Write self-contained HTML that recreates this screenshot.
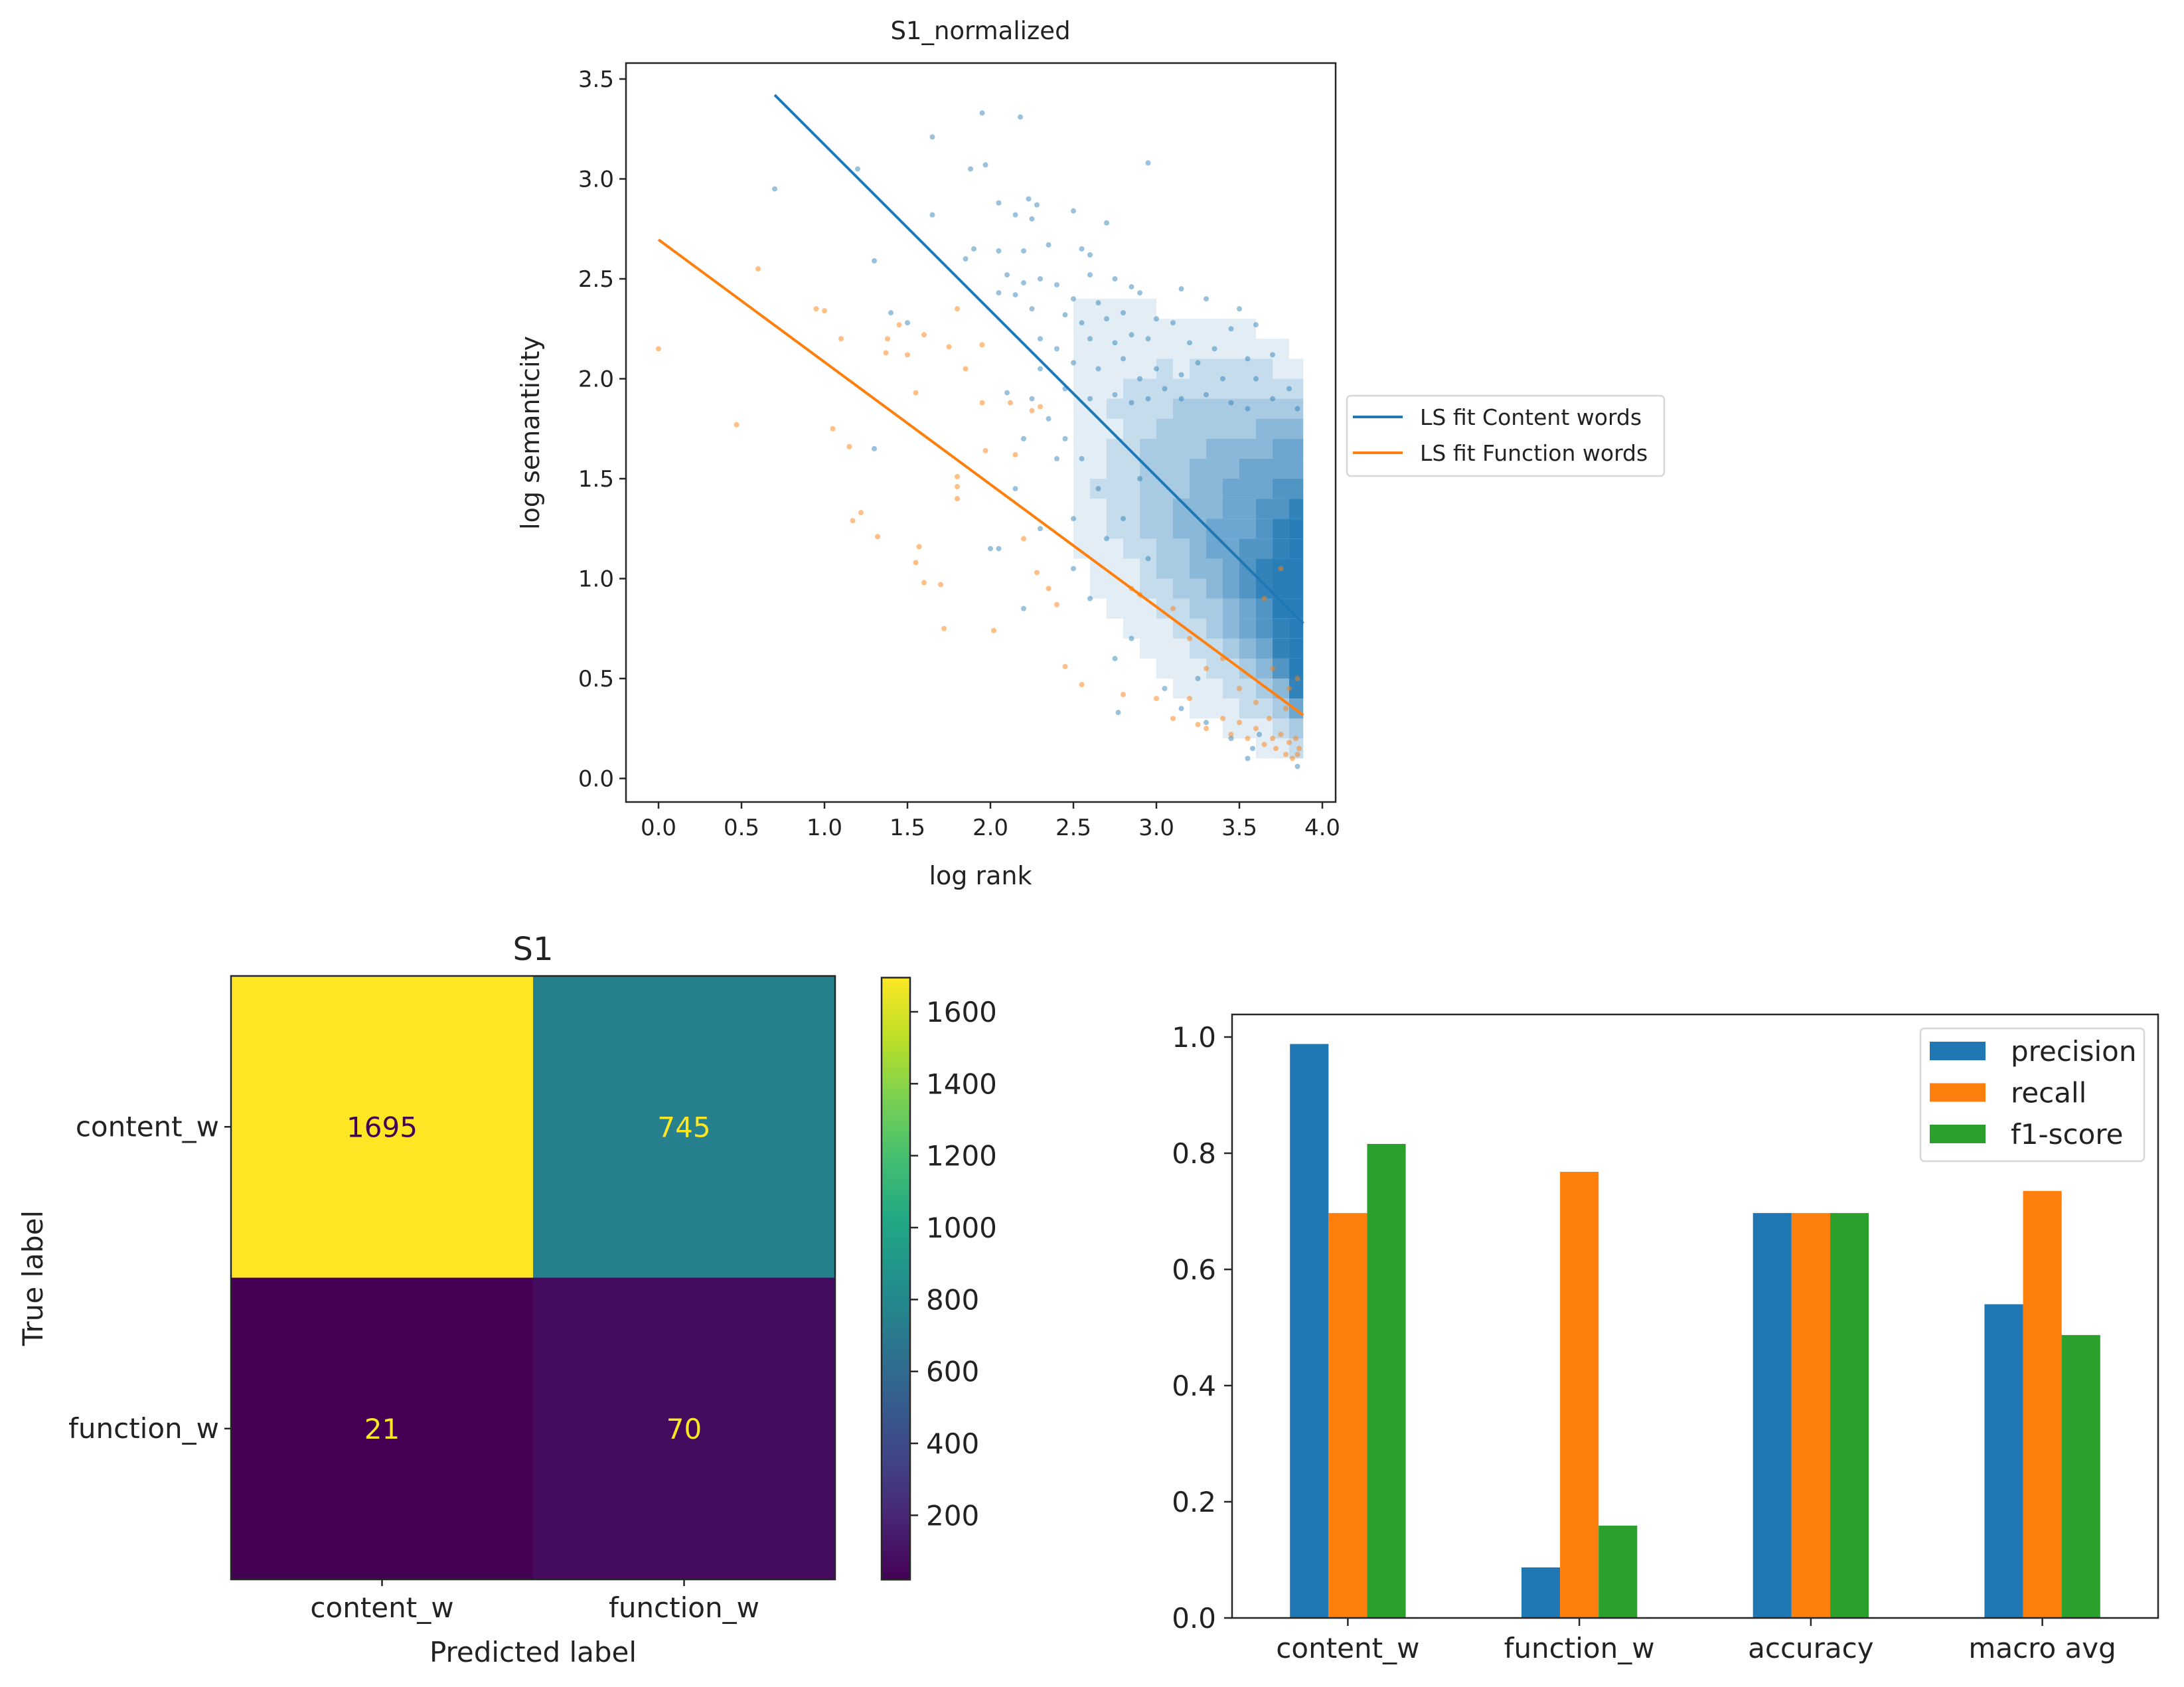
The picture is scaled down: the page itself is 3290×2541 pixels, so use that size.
<!DOCTYPE html>
<html><head><meta charset="utf-8"><style>
html,body{margin:0;padding:0;background:#fff;}
svg{display:block;font-family:"DejaVu Sans","Liberation Sans",sans-serif;}
</style></head><body>
<svg id="root" width="3290" height="2541" viewBox="0 0 3290 2541" xmlns="http://www.w3.org/2000/svg">
<defs>
<linearGradient id="viridis" x1="0" y1="1" x2="0" y2="0">
<stop offset="0" stop-color="#440154"/><stop offset="0.1" stop-color="#482475"/><stop offset="0.2" stop-color="#414487"/><stop offset="0.3" stop-color="#355f8d"/><stop offset="0.4" stop-color="#2a788e"/><stop offset="0.5" stop-color="#21918c"/><stop offset="0.6" stop-color="#22a884"/><stop offset="0.7" stop-color="#44bf70"/><stop offset="0.8" stop-color="#7ad151"/><stop offset="0.9" stop-color="#bddf26"/><stop offset="1" stop-color="#fde725"/>
</linearGradient>
<clipPath id="scClip"><rect x="943" y="95" width="1069" height="1113"/></clipPath>
</defs>
<g id="scatter"></g>
<g id="cm"></g>
<g id="bars"></g>
</svg>
<script>
// ---------- Scatter data ----------
const blueSparse = [[0.7,2.95],[1.95,3.33],[2.18,3.31],[1.65,3.21],[2.95,3.08],[1.97,3.07],[1.88,3.05],[1.2,3.05],[1.65,2.82],[2.05,2.88],[2.23,2.9],[2.28,2.87],[2.5,2.84],[2.25,2.8],[2.15,2.82],[2.7,2.78],[1.3,2.59],[1.85,2.6],[1.9,2.65],[2.05,2.64],[2.2,2.64],[2.35,2.67],[2.55,2.65],[2.6,2.62],[2.1,2.52],[2.2,2.48],[2.3,2.5],[2.4,2.47],[2.05,2.43],[2.15,2.42],[2.6,2.52],[2.75,2.5],[2.85,2.46],[2.5,2.4],[2.65,2.38],[2.9,2.43],[3.15,2.45],[3.3,2.4],[3.5,2.35],[1.4,2.33],[1.5,2.28],[2.25,2.35],[2.45,2.32],[2.55,2.28],[2.7,2.3],[2.8,2.33],[3.0,2.3],[3.1,2.28],[3.45,2.25],[3.6,2.27],[2.3,2.2],[2.4,2.15],[2.6,2.2],[2.75,2.18],[2.85,2.22],[2.95,2.2],[3.2,2.18],[3.35,2.15],[3.55,2.1],[3.7,2.12],[2.3,2.05],[2.5,2.08],[2.65,2.05],[2.8,2.1],[2.9,2.0],[3.0,2.05],[3.15,2.02],[3.25,2.08],[3.4,2.0],[3.6,2.0],[3.8,1.95],[2.1,1.93],[2.25,1.9],[2.45,1.95],[2.6,1.9],[2.75,1.92],[2.85,1.88],[2.95,1.9],[3.05,1.95],[3.15,1.9],[3.3,1.92],[3.45,1.88],[3.55,1.85],[3.7,1.9],[3.85,1.85],[1.3,1.65],[2.0,1.15],[2.05,1.15],[2.2,0.85],[2.3,1.25],[2.4,1.6],[2.45,1.7],[2.5,1.3],[2.5,1.05],[2.6,0.9],[2.7,1.2],[2.75,0.6],[2.77,0.33],[2.85,0.7],[2.9,1.5],[2.95,1.1],[3.05,0.45],[3.15,0.35],[3.25,0.5],[3.3,0.28],[3.45,0.2],[3.55,0.1],[3.58,0.15],[3.62,0.22],[3.85,0.06],[2.35,1.8],[2.55,1.6],[2.65,1.45],[2.8,1.3],[2.2,1.7],[2.15,1.45]];
const blueDensityX = [2.5,2.6,2.7,2.8,2.9,3.0,3.1,3.2,3.3,3.4,3.5,3.6,3.7,3.8];
const blueDensityCounts = [
 [0,0,0,0,0,0,0,0,0,0,0,1,1,1,1,1,1,1,1,1,1,1,1,1,0],
 [0,0,0,0,0,0,0,0,0,1,1,1,1,1,2,1,1,1,1,1,1,1,1,1,0],
 [0,0,0,0,0,0,0,0,1,1,1,1,2,2,2,2,2,1,2,1,1,1,1,1,0],
 [0,0,0,0,0,0,0,1,1,1,1,2,2,2,2,2,2,2,2,2,1,1,1,1,0],
 [0,0,0,0,0,0,1,1,1,2,2,2,3,3,3,3,3,2,2,2,1,1,1,1,0],
 [0,0,0,0,0,1,1,1,2,2,3,3,3,3,3,3,3,3,2,2,2,1,1,0,0],
 [0,0,0,0,1,1,1,2,2,3,3,3,4,4,3,3,3,3,3,2,1,1,1,0,0],
 [0,0,0,1,1,1,2,2,3,3,4,4,4,4,4,4,3,3,3,2,2,1,1,0,0],
 [0,0,0,1,1,2,2,3,3,4,4,5,5,4,4,4,4,3,3,2,2,1,1,0,0],
 [0,0,1,1,2,2,3,4,4,5,5,5,5,5,5,4,4,3,3,2,2,1,1,0,0],
 [0,0,1,2,2,3,4,5,5,6,6,6,5,5,5,5,4,3,3,2,2,1,1,0,0],
 [0,1,1,2,3,4,5,6,6,7,7,6,6,6,5,5,4,4,3,2,2,1,0,0,0],
 [0,1,2,3,4,6,7,7,8,8,8,7,7,6,6,5,5,4,3,2,1,1,0,0,0],
 [0,2,3,5,7,8,9,9,9,9,9,8,8,7,6,5,5,4,3,2,1,0,0,0,0]];
const orangePts = [[0,2.15],[0.6,2.55],[0.47,1.77],[0.95,2.35],[1.0,2.34],[1.05,1.75],[1.1,2.2],[1.15,1.66],[1.17,1.29],[1.22,1.33],[1.32,1.21],[1.37,2.13],[1.38,2.2],[1.45,2.27],[1.5,2.12],[1.55,1.93],[1.55,1.08],[1.57,1.16],[1.6,0.98],[1.6,2.22],[1.7,0.97],[1.72,0.75],[1.75,2.16],[1.8,1.51],[1.8,1.46],[1.8,1.4],[1.8,2.35],[1.85,2.05],[1.95,2.17],[1.95,1.88],[1.97,1.64],[2.02,0.74],[2.12,1.88],[2.15,1.62],[2.2,1.2],[2.25,1.84],[2.28,1.03],[2.3,1.86],[2.35,0.95],[2.4,0.87],[2.45,0.56],[2.55,0.47],[2.8,0.42],[2.85,0.95],[2.9,0.92],[3.0,0.4],[3.1,0.3],[3.2,0.4],[3.25,0.27],[3.3,0.25],[3.4,0.3],[3.45,0.22],[3.5,0.28],[3.55,0.2],[3.6,0.25],[3.65,0.17],[3.7,0.2],[3.72,0.15],[3.75,0.22],[3.78,0.12],[3.8,0.18],[3.82,0.1],[3.84,0.2],[3.86,0.15],[3.85,0.12],[3.68,0.3],[3.78,0.35],[3.6,0.38],[3.5,0.45],[3.4,0.6],[3.3,0.55],[3.2,0.7],[3.1,0.85],[3.7,0.55],[3.8,0.45],[3.85,0.5],[3.75,1.05],[3.65,0.9]];
const fitContent = [[0.7,3.42],[3.885,0.776]];
const fitFunction = [[0,2.696],[3.885,0.317]];
const scXTicks = [0,0.5,1,1.5,2,2.5,3,3.5,4];
const scXTickLabels = ["0.0","0.5","1.0","1.5","2.0","2.5","3.0","3.5","4.0"];
const scYTicks = [0,0.5,1,1.5,2,2.5,3,3.5];
const scYTickLabels = ["0.0","0.5","1.0","1.5","2.0","2.5","3.0","3.5"];
const legendScatter = ["LS fit Content words","LS fit Function words"];

// ---------- Confusion matrix data ----------
const cmClasses = ["content_w","function_w"];
const cmValues = [[1695,745],[21,70]];
const cbTicks = [200,400,600,800,1000,1200,1400,1600];

// ---------- Bar chart data ----------
const barCategories = ["content_w","function_w","accuracy","macro avg"];
const barSeries = ["precision","recall","f1-score"];
const precisionVals = [0.988,0.087,0.697,0.540];
const recallVals = [0.697,0.768,0.697,0.735];
const f1Vals = [0.816,0.159,0.697,0.487];
const barYTicks = [0,0.2,0.4,0.6,0.8,1.0];
const barYTickLabels = ["0.0","0.2","0.4","0.6","0.8","1.0"];

const NS="http://www.w3.org/2000/svg";
function mk(parent, tag, attrs, text){
  const e=document.createElementNS(NS,tag);
  for(const k in attrs) e.setAttribute(k,attrs[k]);
  if(text!==undefined) e.textContent=text;
  parent.appendChild(e); return e;
}
const BLUE="#1f77b4", ORANGE="#ff7f0e", GREEN="#2ca02c", AX="#262626";

// ===== Scatter =====
(function(){
  const g=document.getElementById('scatter');
  const L=943,T=95,R=2012,B=1208;
  const sx=v=>992+250*v, sy=v=>1172.5-301*v;
  const pg=mk(g,'g',{'clip-path':'url(#scClip)'});
  
  
  blueDensityX.forEach((x0,i)=>{
    blueDensityCounts[i].forEach((c,j)=>{
      if(!c) return;
      const x1=Math.min(x0+0.1,3.885);
      const r=mk(pg,'rect',{x:sx(x0),y:sy(j*0.1+0.1),width:sx(x1)-sx(x0),height:sy(j*0.1)-sy(j*0.1+0.1),fill:BLUE,'fill-opacity':Math.min(0.95,c*0.13)});
      
      
    });
  });
  blueSparse.forEach(p=>{
    const c=mk(pg,'circle',{cx:sx(p[0]),cy:sy(p[1]),r:4,fill:BLUE,'fill-opacity':0.45});
    
    
  });
  orangePts.forEach(p=>{
    const c=mk(pg,'circle',{cx:sx(p[0]),cy:sy(p[1]),r:4,fill:ORANGE,'fill-opacity':0.5});
    
    
  });
  const l1=mk(g,'line',{x1:sx(fitContent[0][0]),y1:sy(fitContent[0][1]),x2:sx(fitContent[1][0]),y2:sy(fitContent[1][1]),stroke:BLUE,'stroke-width':4});
  
  
  const l2=mk(g,'line',{x1:sx(fitFunction[0][0]),y1:sy(fitFunction[0][1]),x2:sx(fitFunction[1][0]),y2:sy(fitFunction[1][1]),stroke:ORANGE,'stroke-width':4});
  
  
  const fr=mk(g,'rect',{x:L,y:T,width:R-L,height:B-T,fill:'none',stroke:AX,'stroke-width':2.5});
  
  
  scXTicks.forEach((v,i)=>{
    mk(g,'line',{x1:sx(v),y1:B,x2:sx(v),y2:B+10,stroke:AX,'stroke-width':2.5});
    const t=mk(g,'text',{x:sx(v),y:B+50,'font-size':34,'text-anchor':'middle',fill:'#222'},scXTickLabels[i]);
    
    
  });
  scYTicks.forEach((v,i)=>{
    mk(g,'line',{x1:L-10,y1:sy(v),x2:L,y2:sy(v),stroke:AX,'stroke-width':2.5});
    const t=mk(g,'text',{x:L-18,y:sy(v)+12,'font-size':34,'text-anchor':'end',fill:'#222'},scYTickLabels[i]);
    
    
  });
  const tt=mk(g,'text',{x:1477,y:59,'font-size':37,'text-anchor':'middle',fill:'#222'},'S1_normalized');
  
  
  const xl=mk(g,'text',{x:1477,y:1332,'font-size':38,'text-anchor':'middle',fill:'#222'},'log rank');
  
  
  const yl=mk(g,'text',{x:0,y:0,'font-size':38,'text-anchor':'middle',fill:'#222',transform:'translate(812,652) rotate(-90)'},'log semanticity');
  
  
  const lg=mk(g,'g',{});
  
  
  mk(lg,'rect',{x:2029,y:596,width:478,height:121,rx:6,fill:'#fff',stroke:'#d6d6d6','stroke-width':2.5});
  [BLUE,ORANGE].forEach((c,i)=>{
    const y=628+i*54;
    mk(lg,'line',{x1:2038,y1:y,x2:2113,y2:y,stroke:c,'stroke-width':4});
    const t=mk(lg,'text',{x:2139,y:y+12,'font-size':33,fill:'#222'},legendScatter[i]);
    
    
  });
})();

// ===== Confusion matrix =====
(function(){
  const g=document.getElementById('cm');
  const L=348,T=1470,R=1258,B=2379;
  const cw=(R-L)/2, ch=(B-T)/2;
  const vmin=21,vmax=1695;
  const stops=["#440154","#482475","#414487","#355f8d","#2a788e","#21918c","#22a884","#44bf70","#7ad151","#bddf26","#fde725"];
  function hex(h){return [1,3,5].map(i=>parseInt(h.substr(i,2),16));}
  function viridis(t){t=Math.max(0,Math.min(1,t));const f=t*10,i=Math.min(9,Math.floor(f)),u=f-i;const a=hex(stops[i]),b=hex(stops[i+1]);return 'rgb('+a.map((v,k)=>Math.round(v+(b[k]-v)*u)).join(',')+')';}
  cmValues.forEach((row,r)=>row.forEach((v,c)=>{
    const t=(v-vmin)/(vmax-vmin);
    const cell=mk(g,'rect',{x:L+c*cw,y:T+r*ch,width:cw,height:ch,fill:viridis(t)});
    
    
    const tx=mk(g,'text',{x:L+c*cw+cw/2,y:T+r*ch+ch/2+15,'font-size':42,'text-anchor':'middle',fill:t>0.6?'#440154':'#fde725'},String(v));
    
    
  }));
  mk(g,'rect',{x:L,y:T,width:R-L,height:B-T,fill:'none',stroke:AX,'stroke-width':2.5});
  cmClasses.forEach((name,i)=>{
    const cy=T+i*ch+ch/2, cx=L+i*cw+cw/2;
    mk(g,'line',{x1:L-10,y1:cy,x2:L,y2:cy,stroke:AX,'stroke-width':2.5});
    const yt=mk(g,'text',{x:L-18,y:cy+14,'font-size':42,'text-anchor':'end',fill:'#222'},name);
    
    
    mk(g,'line',{x1:cx,y1:B,x2:cx,y2:B+10,stroke:AX,'stroke-width':2.5});
    const xt=mk(g,'text',{x:cx,y:B+57,'font-size':42,'text-anchor':'middle',fill:'#222'},name);
    
    
  });
  const tt=mk(g,'text',{x:803,y:1446,'font-size':48,'text-anchor':'middle',fill:'#222'},'S1');
  
  
  const xl=mk(g,'text',{x:803,y:2503,'font-size':42,'text-anchor':'middle',fill:'#222'},'Predicted label');
  
  
  const yl=mk(g,'text',{x:0,y:0,'font-size':42,'text-anchor':'middle',fill:'#222',transform:'translate(64,1925) rotate(-90)'},'True label');
  
  
  // colorbar
  const cbL=1328,cbR=1371;
  const cy=v=>1524-(v-1600)*0.5417;
  const cb=mk(g,'rect',{x:cbL,y:cy(vmax),width:cbR-cbL,height:cy(vmin)-cy(vmax),fill:'url(#viridis)',stroke:AX,'stroke-width':2.5});
  
  
  cbTicks.forEach(v=>{
    mk(g,'line',{x1:cbR,y1:cy(v),x2:cbR+12,y2:cy(v),stroke:AX,'stroke-width':2.5});
    const t=mk(g,'text',{x:cbR+24,y:cy(v)+15,'font-size':42,fill:'#222'},String(v));
    
    
  });
})();

// ===== Bar chart =====
(function(){
  const g=document.getElementById('bars');
  const L=1856,T=1528,R=3251,B=2437;
  const step=(R-L)/barCategories.length;
  const bx=i=>L+step*(i+0.5);
  const by=v=>B-875*v;
  const bw=step*0.5/3;
  const series=[precisionVals,recallVals,f1Vals], colors=[BLUE,ORANGE,GREEN];
  series.forEach((vals,s)=>vals.forEach((v,i)=>{
    const r=mk(g,'rect',{x:bx(i)-1.5*bw+s*bw,y:by(v),width:bw,height:by(0)-by(v),fill:colors[s]});
    
    
  }));
  mk(g,'rect',{x:L,y:T,width:R-L,height:B-T,fill:'none',stroke:AX,'stroke-width':2.5});
  barYTicks.forEach((v,i)=>{
    mk(g,'line',{x1:L-12,y1:by(v),x2:L,y2:by(v),stroke:AX,'stroke-width':2.5});
    const t=mk(g,'text',{x:L-24,y:by(v)+15,'font-size':42,'text-anchor':'end',fill:'#222'},barYTickLabels[i]);
    
    
  });
  barCategories.forEach((c,i)=>{
    mk(g,'line',{x1:bx(i),y1:B,x2:bx(i),y2:B+12,stroke:AX,'stroke-width':2.5});
    const t=mk(g,'text',{x:bx(i),y:B+60,'font-size':42,'text-anchor':'middle',fill:'#222'},c);
    
    
  });
  const lg=mk(g,'g',{});
  
  
  mk(lg,'rect',{x:2893,y:1549,width:337,height:200,rx:6,fill:'#fff','fill-opacity':0.85,stroke:'#d6d6d6','stroke-width':2.5});
  barSeries.forEach((s,i)=>{
    const yc=1583+i*62.5;
    mk(lg,'rect',{x:2907,y:yc-14,width:84,height:28,fill:colors[i]});
    const t=mk(lg,'text',{x:3029,y:yc+15,'font-size':42,fill:'#222'},s);
    
    
  });
})();
</script>
</body></html>
